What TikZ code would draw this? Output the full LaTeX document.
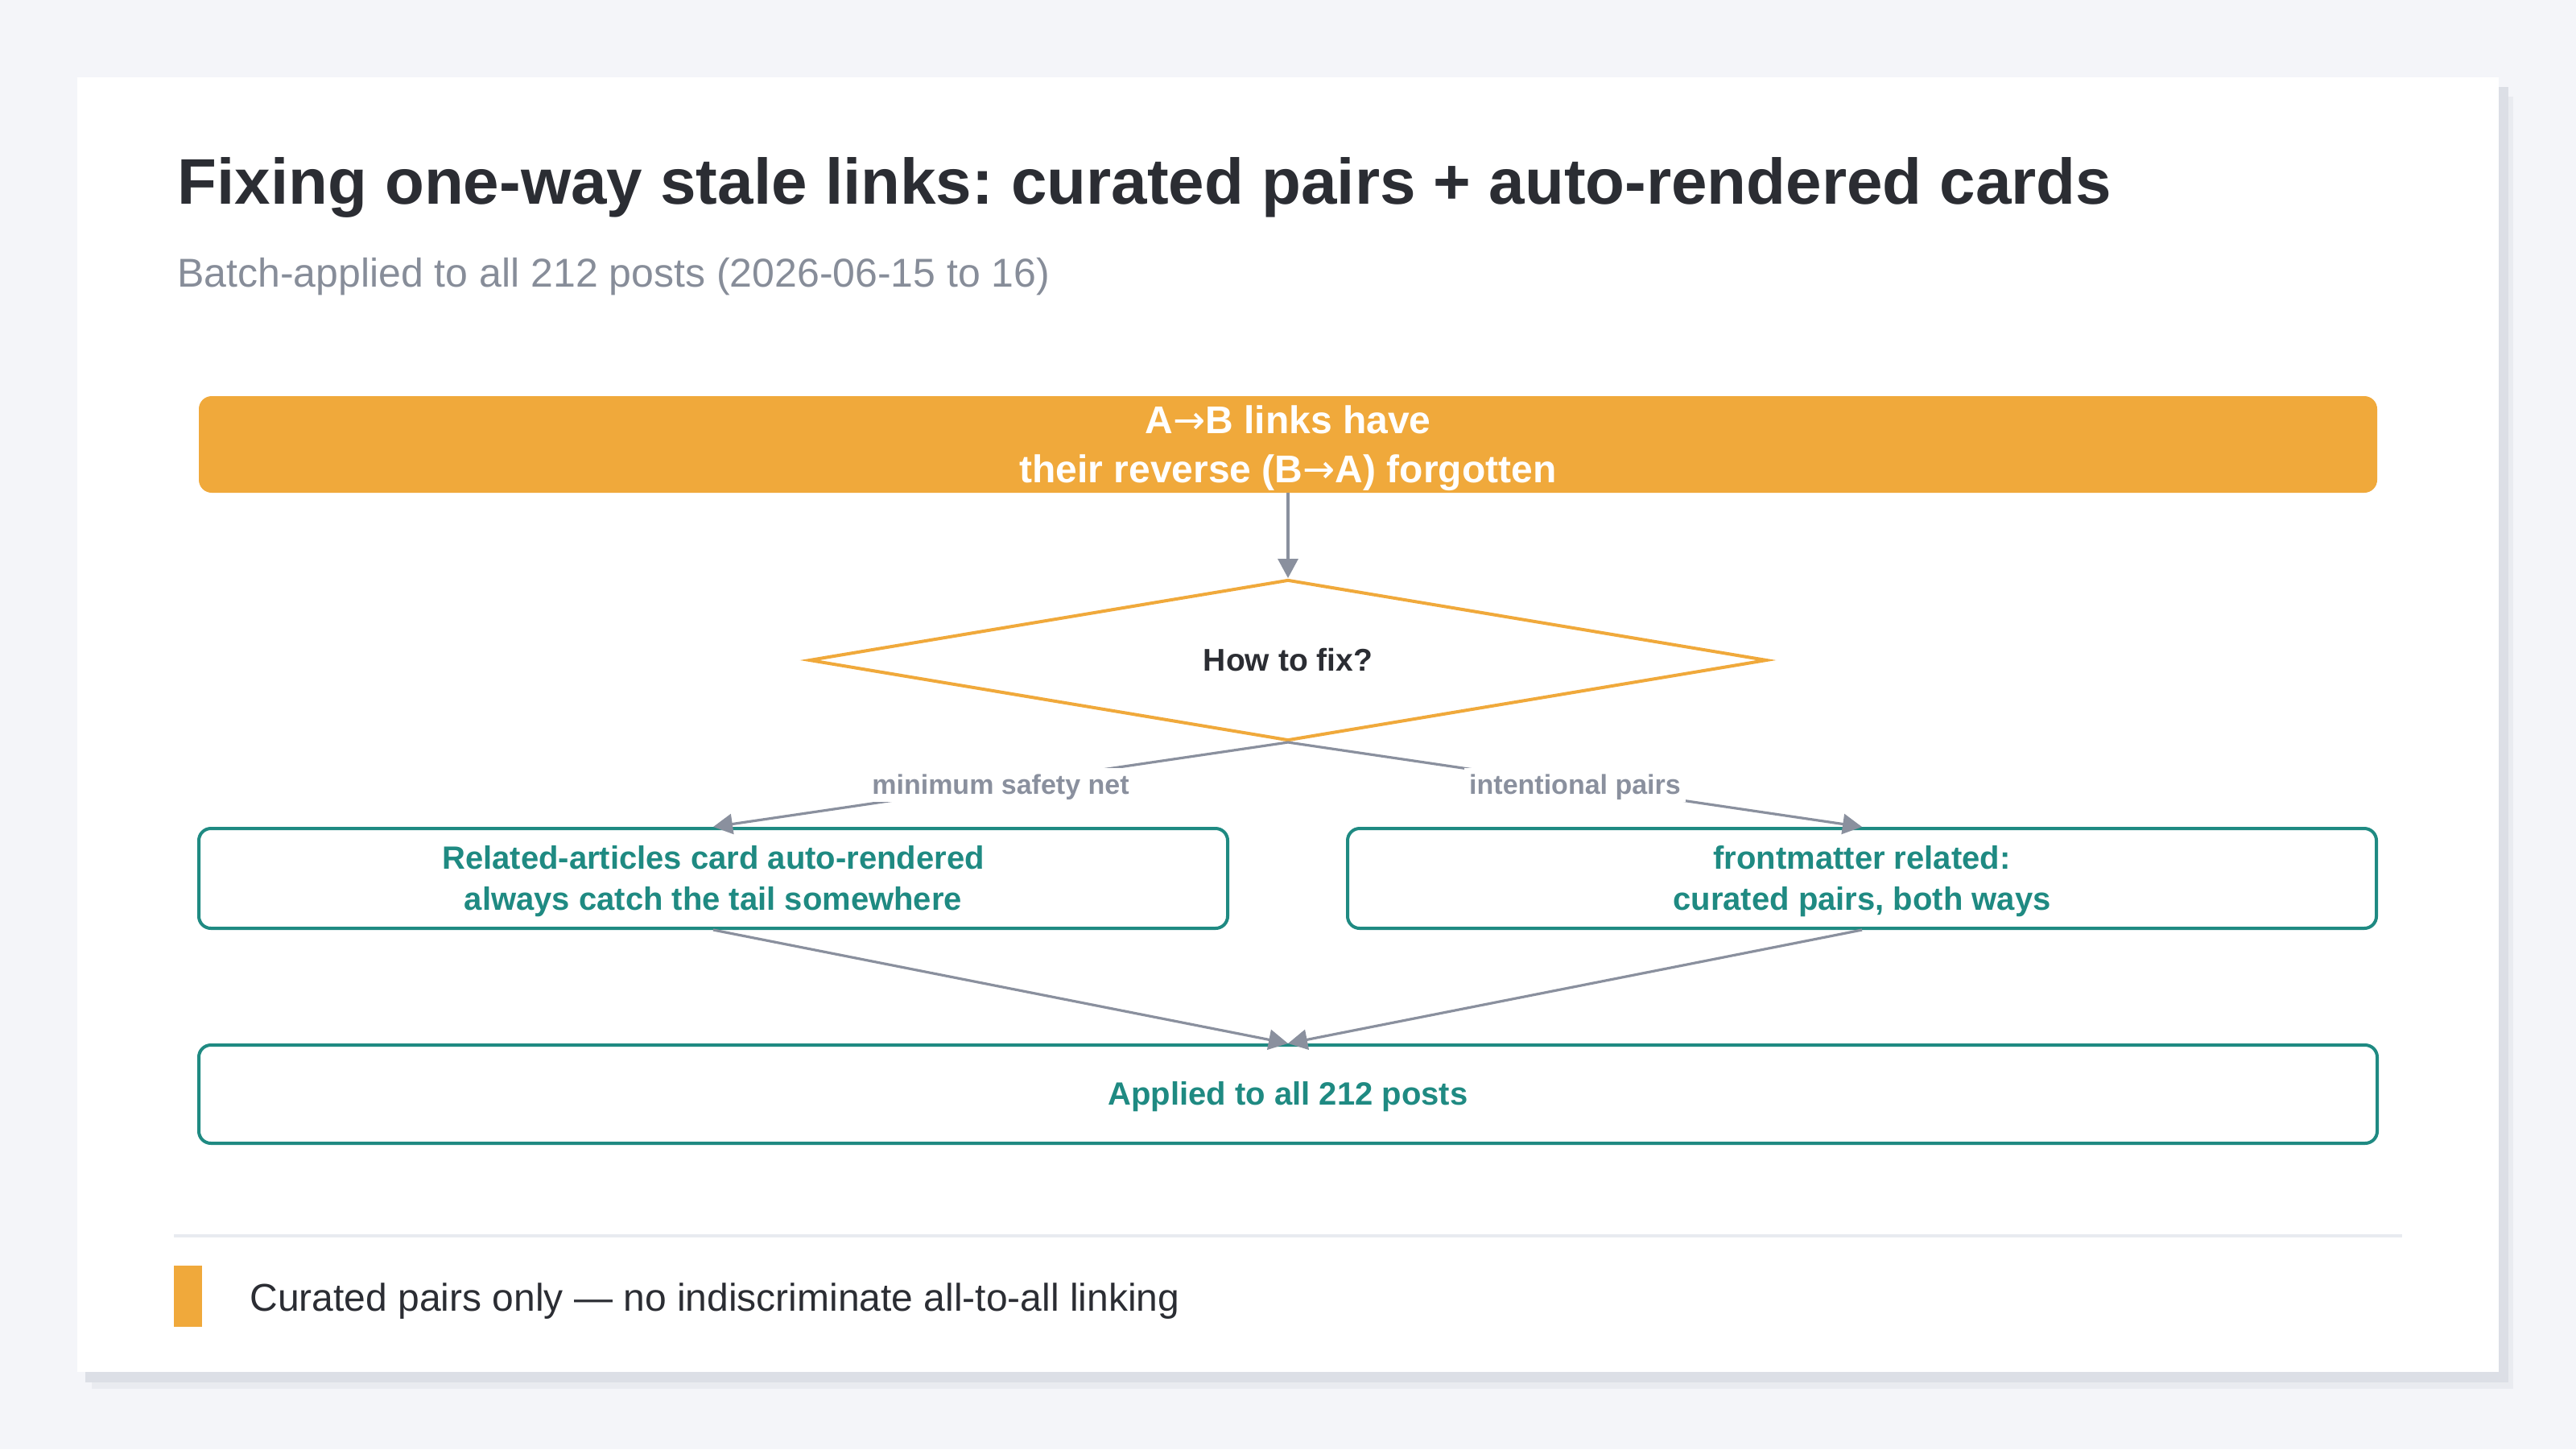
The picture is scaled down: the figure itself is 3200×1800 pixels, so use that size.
\documentclass[tikz,border=0pt]{standalone}
\usepackage{fontspec}
\setmainfont{Liberation Sans}
\newfontfamily\arrowfont{DejaVu Sans}
\usetikzlibrary{shapes.geometric,arrows.meta}
\definecolor{bgc}{HTML}{F4F5F9}
\definecolor{shadowA}{HTML}{E9EBF0}
\definecolor{shadowB}{HTML}{DCDFE6}
\definecolor{orangec}{HTML}{F0A93B}
\definecolor{tealc}{HTML}{1F8A82}
\definecolor{grayc}{HTML}{8A909E}
\definecolor{darkc}{HTML}{2B2D33}
\definecolor{subc}{HTML}{878D99}
\definecolor{sepc}{HTML}{E8EBF0}
\newcommand\bs{\rule[-0.212em]{0pt}{1.117em}}
\newcommand\rarr{{\arrowfont\mdseries →}}
\frenchspacing
\begin{document}
\begin{tikzpicture}[x=0.5pt,y=-0.5pt,
  startbox/.style={rectangle, rounded corners=8pt, fill=orangec, text=white,
    font=\fontsize{24}{30.5}\selectfont\bfseries, align=center,
    minimum width=1353pt, minimum height=60pt, inner sep=0pt},
  decision/.style={diamond, draw=orangec, line width=2pt, fill=white, aspect=5.95,
    minimum width=595pt, minimum height=100pt, inner sep=0pt,
    font=\fontsize{19.5}{24}\selectfont\bfseries, text=darkc},
  stepbox/.style={rectangle, rounded corners=7.5pt, draw=tealc, line width=2pt, fill=white,
    text=tealc, font=\fontsize{20}{25.5}\selectfont\bfseries, align=center,
    minimum height=62pt, inner sep=0pt},
  conn/.style={draw=grayc, line width=1.6pt, -{Triangle[length=12pt,width=12.5pt]}},
  elabel/.style={fill=white, text=grayc, font=\fontsize{17}{20}\selectfont\bfseries, inner xsep=3pt, inner ysep=1pt}
]
\useasboundingbox (0,0) rectangle (3200,1800);
\fill[bgc] (0,0) rectangle (3200,1800);
% card with shadow
\fill[shadowA] (114,120) rectangle (3122,1725);
\fill[shadowB] (106,108) rectangle (3116,1717);
\fill[white] (96,96) rectangle (3104,1704);

% titles
\node[anchor=base west, inner sep=0pt, text=darkc, font=\fontsize{40}{48}\selectfont\bfseries] (title) at (220,253)
  {Fixing one-way stale links: curated pairs + auto-rendered cards};
\node[anchor=base west, inner sep=0pt, text=subc, font=\fontsize{25}{30}\selectfont] (subtitle) at (220,356)
  {Batch-applied to all 212 posts (2026-06-15 to 16)};

% nodes
\node[startbox] (top) at (1600,552) {\bs A\rarr B links have\\\bs their reverse (B\rarr A) forgotten};
\node[decision] (dia) at (1600,820) {\bs How to fix?};
\node[stepbox, minimum width=639pt] (left) at (886,1091) {\bs Related-articles card auto-rendered\\\bs always catch the tail somewhere};
\node[stepbox, minimum width=639pt] (right) at (2313,1091) {\bs frontmatter related:\\\bs curated pairs, both ways};
\node[stepbox, minimum width=1353pt, minimum height=61pt] (bottom) at (1600,1359) {\bs Applied to all 212 posts};

% connectors
\draw[conn] (top.south) -- (dia.north);
\draw[conn] (dia.south) -- node[elabel] (l1) {\bs minimum safety net} (left.north);
\draw[conn] (dia.south) -- node[elabel] (l2) {\bs intentional pairs} (right.north);
\draw[conn] (left.south) -- (bottom.north);
\draw[conn] (right.south) -- (bottom.north);

% footer
\draw[sepc, line width=2pt] (216,1535) -- (2984,1535);
\fill[orangec] (216,1572) rectangle (251,1648);
\node[anchor=base west, inner sep=0pt, text=darkc, font=\fontsize{24}{30}\selectfont] (legend) at (310,1628)
  {Curated pairs only — no indiscriminate all-to-all linking};
\end{tikzpicture}
\end{document}
